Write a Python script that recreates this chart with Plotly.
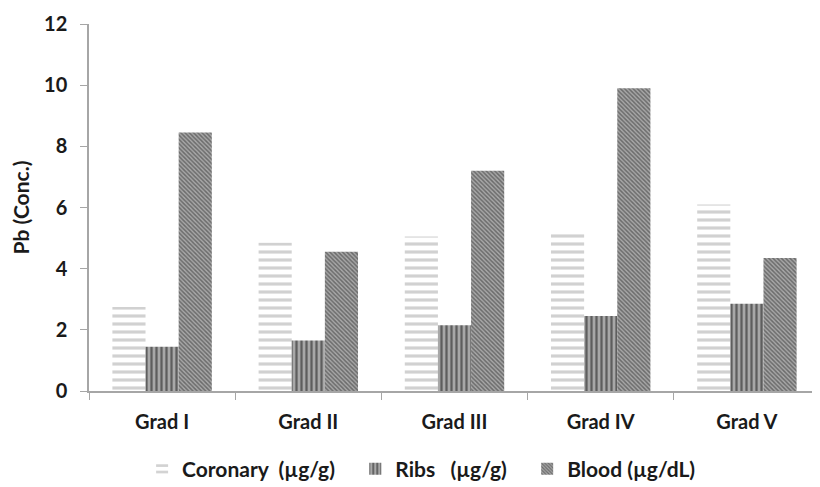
import plotly.graph_objects as go

categories = ["Grad I", "Grad II", "Grad III", "Grad IV", "Grad V"]
coronary = [2.75, 4.85, 5.05, 5.2, 6.1]
ribs = [1.45, 1.65, 2.15, 2.45, 2.85]
blood = [8.45, 4.55, 7.2, 9.9, 4.35]

NB = "\u00a0"
series_names = ["Coronary" + NB * 2 + "(µg/g)" + NB * 3,
                "Ribs" + NB * 3 + "(µg/g)" + NB * 3,
                "Blood (µg/dL)"]

fig = go.Figure()
fig.add_trace(go.Bar(
    x=categories, y=coronary, name=series_names[0],
    marker=dict(color="white", line=dict(width=0),
                pattern=dict(shape="-", fgcolor="#a3a3a3", bgcolor="white", size=8, solidity=0.4)),
))
fig.add_trace(go.Bar(
    x=categories, y=ribs, name=series_names[1],
    marker=dict(color="white", line=dict(width=0),
                pattern=dict(shape="|", fgcolor="#141414", bgcolor="#a8a8a8", size=5, solidity=0.45)),
))
fig.add_trace(go.Bar(
    x=categories, y=blood, name=series_names[2],
    marker=dict(color="white", line=dict(width=0),
                pattern=dict(shape="\\", fgcolor="#2e2e2e", bgcolor="#a8a8a8", size=3, solidity=0.5)),
))

font_family = "Lato, Open Sans, sans-serif"
fig.update_layout(
    width=812, height=479,
    barmode="group", bargap=0.32, bargroupgap=0,
    plot_bgcolor="white", paper_bgcolor="white",
    margin=dict(l=81, r=0, t=16, b=96, autoexpand=False),
    font=dict(family=font_family, color="#1a1a1a"),
    showlegend=True,
    legend=dict(orientation="h", x=0.455, xanchor="center", y=-0.213, yanchor="middle",
                font=dict(size=21, family=font_family, weight="bold", color="#1a1a1a"),
                itemwidth=30, traceorder="normal"),
)
fig.update_xaxes(
    range=[-0.5, 4.5], showline=True, linecolor="#a6a6a6", linewidth=1.5,
    ticks="outside", tickson="boundaries", ticklen=7, tickcolor="#a6a6a6",
    tickfont=dict(size=20, family=font_family, weight="bold", color="#1a1a1a"),
    ticklabelstandoff=12,
    showgrid=False,
)
fig.update_yaxes(
    range=[0, 12], dtick=2, showline=True, linecolor="#a6a6a6", linewidth=1.5,
    ticks="outside", ticklen=7, tickcolor="#a6a6a6",
    tickfont=dict(size=20, family=font_family, weight="bold", color="#1a1a1a"),
    ticklabelstandoff=9,
    showgrid=False, zeroline=False,
    title=dict(text="Pb (Conc.)", font=dict(size=21, family=font_family, weight="bold", color="#1a1a1a"),
               standoff=10),
)

fig.write_html("out.html")
